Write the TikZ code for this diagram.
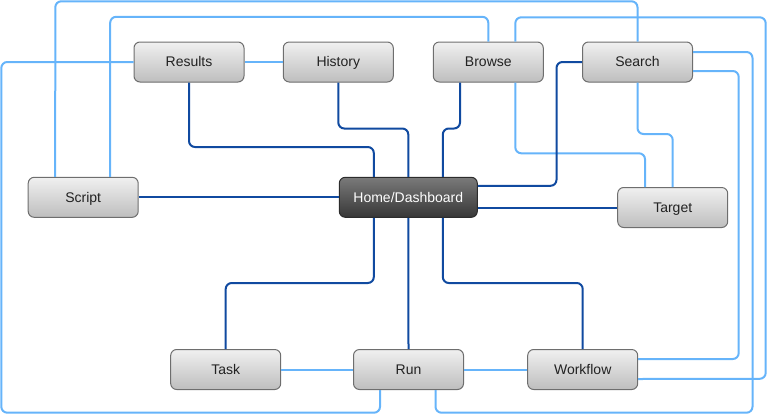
\documentclass[tikz,border=0pt]{standalone}
\usepackage{fontspec}
\setmainfont{Liberation Sans}
\definecolor{dkblue}{RGB}{16,74,160}
\definecolor{ltblue}{RGB}{102,180,250}
\definecolor{gtop}{RGB}{240,240,240}
\definecolor{gbot}{RGB}{190,190,190}
\definecolor{htop}{RGB}{122,122,122}
\definecolor{hbot}{RGB}{55,55,55}
\definecolor{boxline}{RGB}{110,110,110}
\definecolor{txt}{RGB}{34,34,34}
\tikzset{
  box/.style={rectangle,rounded corners=6pt,draw=boxline,line width=1pt,
    top color=gtop,bottom color=gbot,minimum width=110pt,minimum height=40pt,
    inner sep=0pt,text height=11pt,text depth=1.6pt,
    font=\fontsize{14}{16}\selectfont,text=txt},
  homebox/.style={box,top color=htop,bottom color=hbot,minimum width=138pt,text=white,draw=hbot!80!black},
  dk/.style={draw=dkblue,line width=2pt,rounded corners=6pt},
  lt/.style={draw=ltblue,line width=2pt,rounded corners=6pt}
}
\begin{document}
\begin{tikzpicture}[x=1pt,y=-1pt]
\useasboundingbox (0,0) rectangle (767,415);
% nodes
\node[box] (results) at (189,62) {Results};
\node[box] (history) at (338.3,62) {History};
\node[box] (browse) at (488.3,62) {Browse};
\node[box] (search) at (637.5,62) {Search};
\node[box] (script) at (83.2,197.3) {Script};
\node[homebox] (home) at (408.3,197.3) {Home/Dashboard};
\node[box] (target) at (672.7,207.5) {Target};
\node[box] (task) at (225.7,369.5) {Task};
\node[box] (run) at (408.5,369.5) {Run};
\node[box] (workflow) at (582.7,369.5) {Workflow};
% light connectors
\draw[lt] ([xshift=-28pt]script.north) -- (55.3,1.3) -- (637.5,1.3) -- (search.north);
\draw[lt] ([xshift=27pt]script.north) -- (110.2,16.8) -- (488.3,16.8) -- (browse.north);
\draw[lt] (results.west) -- (1.3,62) -- (1.3,412.7) -- (380,412.7) -- ([xshift=-28.5pt]run.south);
\draw[lt] (results.east) -- (history.west);
\draw[lt] ([xshift=27pt]browse.north) -- (515.3,17.3) -- (765.7,17.3) -- (765.7,378.8) -- ([yshift=-9.5pt]workflow.east);
\draw[lt] ([xshift=27pt]browse.south) -- (515.3,153.3) -- (645,153.3) -- ([xshift=-27.7pt]target.north);
\draw[lt] (search.south) -- (637.5,134) -- (672.7,134) -- (target.north);
\draw[lt] ([yshift=10pt]search.east) -- (752.5,52) -- (752.5,412.7) -- (435.5,412.7) -- ([xshift=27pt]run.south);
\draw[lt] ([yshift=-9pt]search.east) -- (738.7,71) -- (738.7,359) -- ([yshift=10.5pt]workflow.east);
\draw[lt] (task.east) -- (run.west);
\draw[lt] (run.east) -- (workflow.west);
% dark connectors
\draw[dk] (results.south) -- (189,147) -- (373.8,147) -- ([xshift=-34.5pt]home.north);
\draw[dk] (history.south) -- (338.3,128.5) -- (408.3,128.5) -- (home.north);
\draw[dk] ([xshift=-28.3pt]browse.south) -- (460,128.5) -- (442.8,128.5) -- ([xshift=34.5pt]home.north);
\draw[dk] ([yshift=11.5pt]home.east) -- (556.5,185.8) -- (556.5,62) -- (search.west);
\draw[dk] (home.east |- target.west) -- (target.west);
\draw[dk] (script.east) -- (home.west);
\draw[dk] ([xshift=-34.5pt]home.south) -- (373.8,283) -- (225.7,283) -- (task.north);
\draw[dk] (home.south) -- (run.north);
\draw[dk] ([xshift=34.5pt]home.south) -- (442.8,283) -- (582.7,283) -- (workflow.north);
\end{tikzpicture}
\end{document}
